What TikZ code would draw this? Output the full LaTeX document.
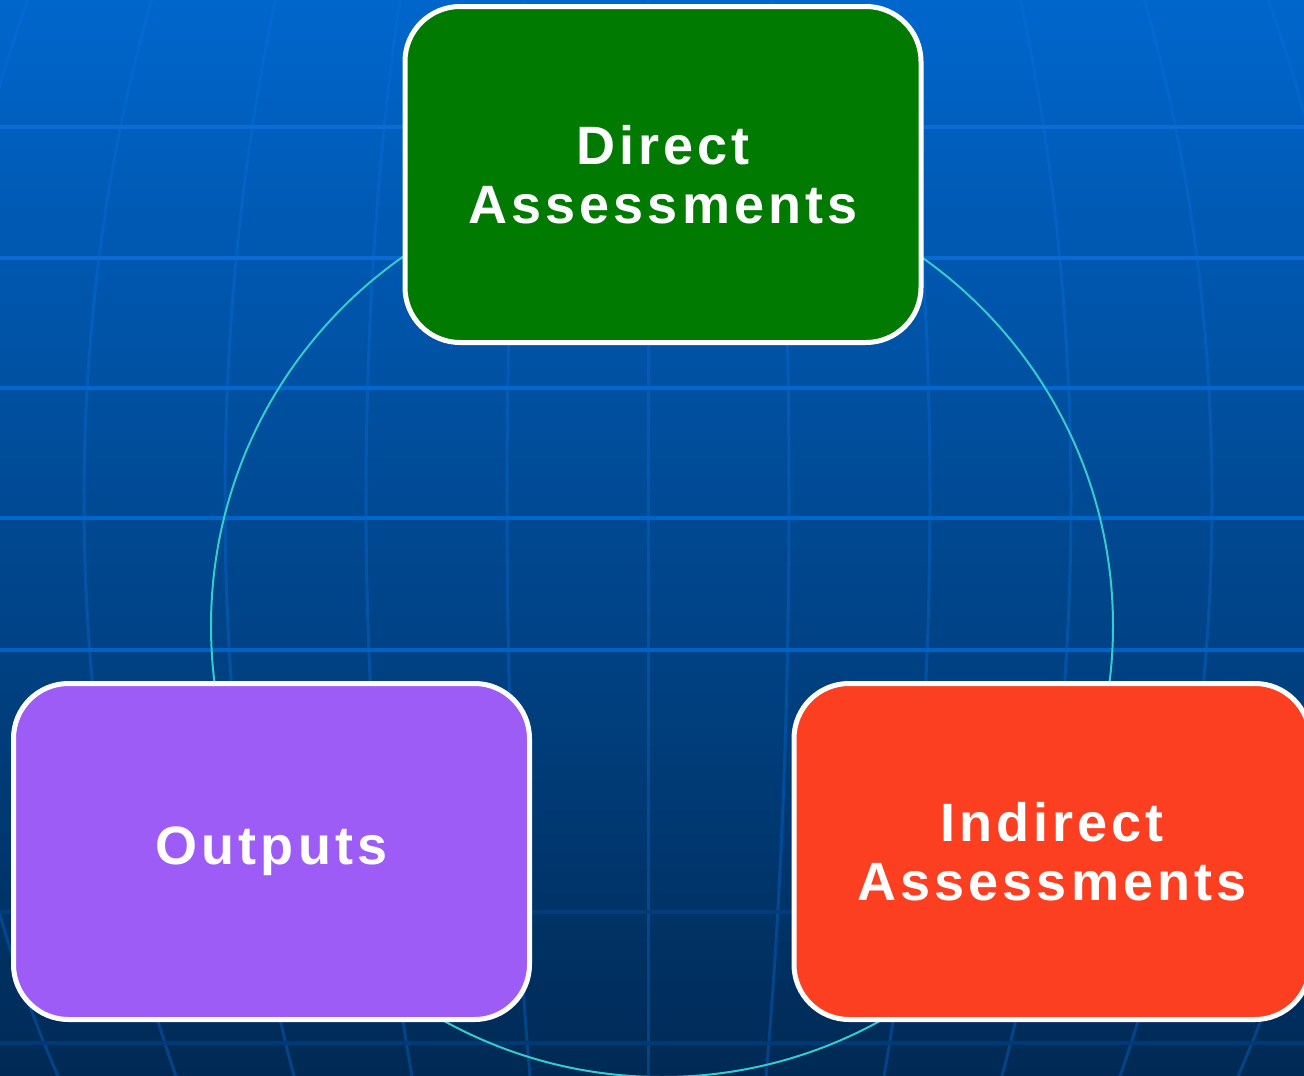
\documentclass[tikz,border=0pt]{standalone}
\usepackage{fontspec}
\newfontfamily\boxfont{Liberation Sans}[LetterSpace=7.5]
\usepackage{tikz}
\definecolor{skytop}{HTML}{0066CC}
\definecolor{skybot}{HTML}{002A55}
\definecolor{gridblue}{HTML}{0A70E0}
\definecolor{ringteal}{HTML}{36CCCC}
\definecolor{dirgreen}{HTML}{007A00}
\definecolor{outviolet}{HTML}{9E5CF7}
\definecolor{indred}{HTML}{FC3F20}
\tikzstyle{block} = [rectangle, draw=white, line width=5pt, rounded corners=55pt,
                 minimum width=516pt, minimum height=336pt, align=center,
                 text=white, font=\boxfont\bfseries\fontsize{54}{58.7}\selectfont]
\tikzstyle{ring} = [draw=ringteal, line width=2pt]
\tikzstyle{meridian} = [draw=gridblue, opacity=0.35, line width=3pt]

\begin{document}
\begin{tikzpicture}[x=1pt, y=-1pt]

\useasboundingbox (0,0) rectangle (1304,1076);
\clip (0,0) rectangle (1304,1076);
\shade[top color=skytop, bottom color=skybot] (0,0) rectangle (1304,1076);

    	%meridians
\coordinate (pole) at (648,500);
\draw[meridian] (648,0) -- (648,1076);
\foreach \k in {1,...,5}
	\draw[meridian] (pole) ellipse [x radius={\k*141pt}, y radius=1052pt];

    	%parallels
\foreach \y/\c in {127/0A6CD4, 258/0A6AD2, 388/0068D0, 518/0066CC,
                   650/0062C4, 912/003D7A, 1043/003A76}
{
	\definecolor{parline}{HTML}{\c}
	\draw[parline, line width=4pt] (0,\y) -- (1304,\y);
}

\coordinate (hub) at (662,626);
\draw[ring] (hub) circle [radius=451pt];

\node [block, fill=dirgreen] (direct) at (663,174.5) {Direct\\Assessments};
\node [block, fill=outviolet] (outputs) at (271.5,851.5) {Outputs};
\node [block, fill=indred] (indirect) at (1052,851.5) {Indirect\\Assessments};

\end{tikzpicture}
\end{document}
